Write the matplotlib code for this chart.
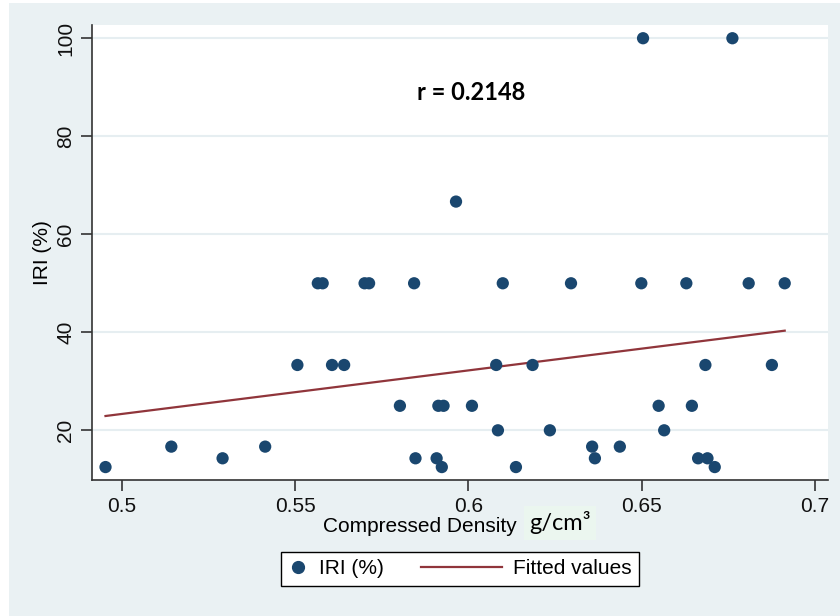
import numpy as np
import matplotlib
matplotlib.use("Agg")
import matplotlib.pyplot as plt
from matplotlib.patches import Rectangle
from matplotlib.lines import Line2D
from matplotlib.legend_handler import HandlerLine2D

# Data
density = [0.4952, 0.5142, 0.5290, 0.5413, 0.5506, 0.5565, 0.5579, 0.5606, 0.5641,
           0.5700, 0.5713, 0.5802, 0.5843, 0.5847, 0.5908, 0.5913, 0.5923, 0.5928,
           0.5964, 0.6010, 0.6080, 0.6085, 0.6099, 0.6137, 0.6185, 0.6235, 0.6296,
           0.6357, 0.6365, 0.6437, 0.6499, 0.6504, 0.6549, 0.6565, 0.6629, 0.6645,
           0.6663, 0.6684, 0.6690, 0.6711, 0.6762, 0.6809, 0.6876, 0.6913]
iri = [12.5, 16.67, 14.29, 16.67, 33.33, 50, 50, 33.33, 33.33,
       50, 50, 25, 50, 14.29, 14.29, 25, 12.5, 25,
       66.67, 25, 33.33, 20, 50, 12.5, 33.33, 20, 50,
       16.67, 14.29, 16.67, 50, 100, 25, 20, 50, 25,
       14.29, 33.33, 14.29, 12.5, 100, 50, 33.33, 50]

x_ticks = [0.5, 0.55, 0.6, 0.65, 0.7]
x_tick_labels = ["0.5", "0.55", "0.6", "0.65", "0.7"]
y_ticks = [20, 40, 60, 80, 100]
y_tick_labels = ["20", "40", "60", "80", "100"]
r_label = "r = 0.2148"

BG = "#EAF1F3"
NAVY = "#1A476F"
MAROON = "#90353B"
FS = 15

plt.rcParams['font.family'] = ['Liberation Sans', 'DejaVu Sans']


class NarrowMarkerHandler(HandlerLine2D):
    def legend_artist(self, legend, orig_handle, fontsize, handlebox):
        handlebox.width = 14
        return super().legend_artist(legend, orig_handle, fontsize, handlebox)


fig = plt.figure(figsize=(8.4, 6.16), dpi=100, facecolor="white")
fig.patches.append(Rectangle((9 / 840, 0), 1 - 9 / 840, 1 - 3 / 616,
                             transform=fig.transFigure, facecolor=BG,
                             edgecolor="none", zorder=-10))

ax = fig.add_axes([92 / 840, 1 - 480 / 616, (828 - 92) / 840, (480 - 25) / 616])
ax.set_facecolor("white")

x = np.array(density)
y = np.array(iri)
slope, intercept = np.polyfit(x, y, 1)
xf = np.array([x.min(), x.max()])
ax.plot(xf, slope * xf + intercept, color=MAROON, lw=1.6, zorder=3)
ax.scatter(x, y, s=78, color=NAVY, edgecolors="none", zorder=4)

ax.set_xlim(0.4913, 0.7038)
ax.set_ylim(9.86, 102.7)
ax.set_xticks(x_ticks)
ax.set_xticklabels(x_tick_labels)
ax.set_yticks(y_ticks)
ax.set_yticklabels(y_tick_labels, rotation=90, va="center")
ax.grid(axis="y", color="#E6EEF1", lw=1.5, zorder=0)
ax.set_axisbelow(True)
for s in ["top", "right"]:
    ax.spines[s].set_visible(False)
for s in ["left", "bottom"]:
    ax.spines[s].set_color("#333333")
    ax.spines[s].set_linewidth(1.2)
ax.tick_params(axis="both", direction="out", length=8, width=1.2, color="#333333",
               labelsize=FS, labelcolor="#111111")
ax.tick_params(axis="x", pad=4)
ax.tick_params(axis="y", pad=4)

ax.set_ylabel("IRI (%)", fontsize=FS, labelpad=3)

ax.text((471 - 92) / 736, (480 - 92) / 455, r_label, transform=ax.transAxes,
        ha="center", va="center", fontsize=17, fontweight="bold",
        family=["Lato", "DejaVu Sans"])

fig.text(420 / 840, 1 - 527 / 616, "Compressed Density", ha="center", va="center",
         fontsize=FS)
fig.text(560 / 840, 1 - 523 / 616, "g/cm³", ha="center", va="center",
         fontsize=17, family=["Lato", "DejaVu Sans"],
         bbox=dict(facecolor="#EBF6EF", edgecolor="none", pad=4))

h_pts = Line2D([], [], marker="o", ls="none", color=NAVY, markersize=8.5)
h_fit = Line2D([], [], color=MAROON, lw=1.6)
leg = fig.legend([h_pts, h_fit], ["IRI (%)", "Fitted values"], loc="center",
                 bbox_to_anchor=(460 / 840, 1 - 569 / 616), ncol=2,
                 fontsize=FS, frameon=True, fancybox=False, framealpha=1,
                 edgecolor="black", handlelength=3.85, columnspacing=1.8,
                 handletextpad=0.55, borderpad=0.35, borderaxespad=0,
                 handler_map={h_pts: NarrowMarkerHandler()})
leg.get_frame().set_linewidth(1.0)

fig.savefig("out.png", dpi=100, facecolor=fig.get_facecolor())
